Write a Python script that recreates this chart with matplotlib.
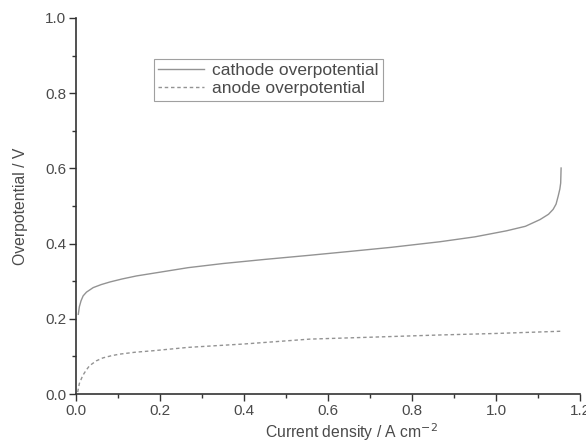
import matplotlib
matplotlib.use("Agg")
import matplotlib.pyplot as plt
from matplotlib.ticker import MultipleLocator

plt.rcParams['font.family'] = ['Liberation Sans', 'DejaVu Sans']

# Data
cathode_x = [0.0055, 0.008, 0.012, 0.017, 0.025, 0.041, 0.06, 0.081, 0.11, 0.144,
             0.2, 0.267, 0.35, 0.45, 0.557, 0.65, 0.75, 0.867, 0.95, 1.025,
             1.07, 1.105, 1.125, 1.136, 1.143, 1.148, 1.152, 1.154, 1.155]
cathode_y = [0.212, 0.232, 0.248, 0.261, 0.271, 0.283, 0.291, 0.298, 0.306, 0.314,
             0.324, 0.336, 0.347, 0.358, 0.369, 0.379, 0.390, 0.405, 0.418, 0.434,
             0.446, 0.464, 0.478, 0.491, 0.505, 0.526, 0.545, 0.561, 0.601]

anode_x = [0.004, 0.008, 0.016, 0.024, 0.032, 0.048, 0.064, 0.085, 0.104, 0.14,
           0.183, 0.267, 0.4, 0.557, 0.7, 0.867, 1.0, 1.157]
anode_y = [0.005, 0.028, 0.049, 0.063, 0.075, 0.088, 0.096, 0.102, 0.106, 0.111,
           0.115, 0.124, 0.133, 0.146, 0.151, 0.157, 0.161, 0.167]

series_labels = ["cathode overpotential", "anode overpotential"]
x_label = "Current density / A cm$^{-2}$"
y_label = "Overpotential / V"

text_color = "#4a4a4a"
line_color = "#939393"
axis_color = "#333333"

fig = plt.figure(figsize=(5.86, 4.47), dpi=100)
ax = fig.add_axes([76 / 586, 1 - 394 / 447, 504 / 586, 376 / 447])

ax.plot(cathode_x, cathode_y, color=line_color, lw=1.0, label=series_labels[0])
ax.plot(anode_x, anode_y, color=line_color, lw=1.0, dashes=(2.5, 2),
        label=series_labels[1])

ax.set_xlim(0, 1.2)
ax.set_ylim(0, 1.0)
ax.xaxis.set_major_locator(MultipleLocator(0.2))
ax.xaxis.set_minor_locator(MultipleLocator(0.1))
ax.yaxis.set_major_locator(MultipleLocator(0.2))
ax.yaxis.set_minor_locator(MultipleLocator(0.1))
ax.xaxis.set_major_formatter(plt.FuncFormatter(lambda v, p: f"{v:.1f}"))
ax.yaxis.set_major_formatter(plt.FuncFormatter(lambda v, p: f"{v:.1f}"))

for s in ['top', 'right']:
    ax.spines[s].set_visible(False)
for s in ['left', 'bottom']:
    ax.spines[s].set_color(axis_color)
    ax.spines[s].set_linewidth(1.2)

ax.tick_params(which='major', direction='out', length=5, width=1.0,
               color=axis_color, labelsize=11, labelcolor=text_color, pad=2)
ax.tick_params(which='minor', direction='out', length=3, width=1.0,
               color=axis_color)

ax.set_xlabel(x_label, fontsize=11.3, color=text_color)
ax.set_ylabel(y_label, fontsize=11.3, color=text_color)
ax.xaxis.set_label_coords(0.546, -0.072)
ax.yaxis.set_label_coords(-0.095, 0.5)

leg = ax.legend(loc='upper left', bbox_to_anchor=(0.155, 0.891),
                borderaxespad=0, fontsize=12.5, frameon=True, fancybox=False,
                handlelength=2.6, handletextpad=0.5, borderpad=0.25,
                labelspacing=0.15, labelcolor=text_color)
leg.get_frame().set_edgecolor("#888888")
leg.get_frame().set_linewidth(0.8)

fig.savefig("out.png", dpi=100, facecolor="white")
